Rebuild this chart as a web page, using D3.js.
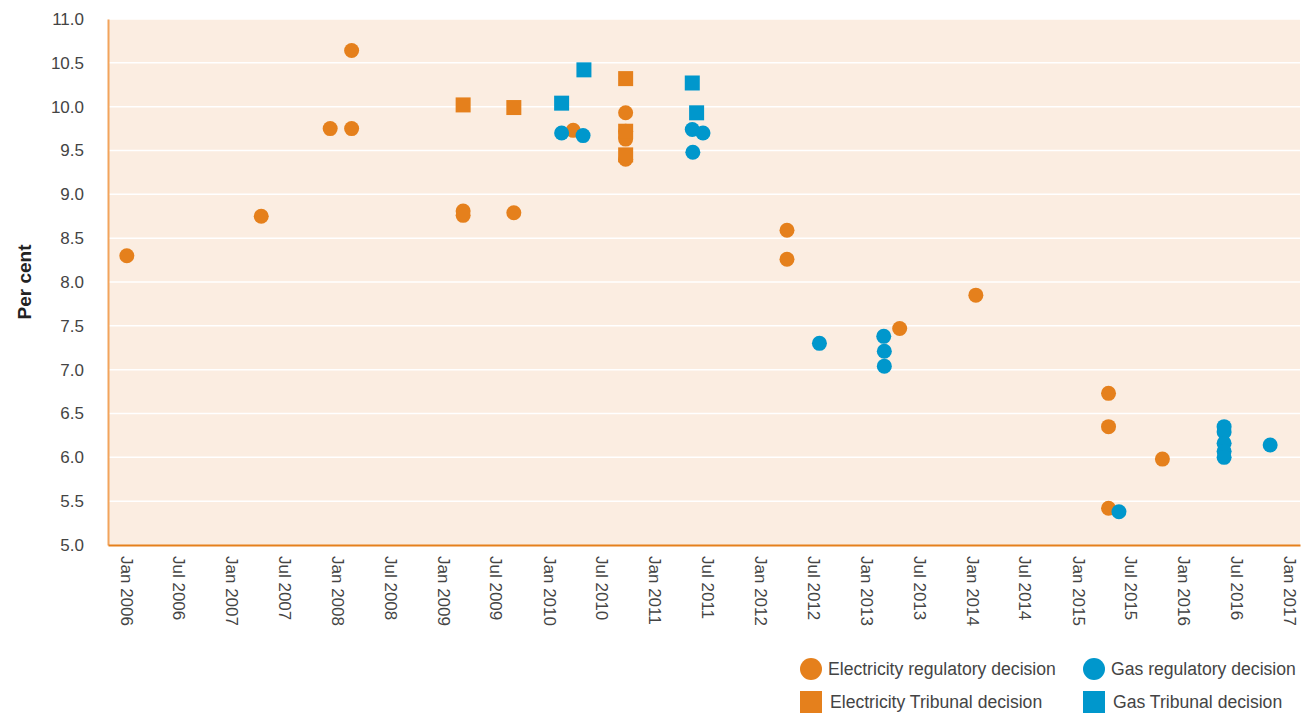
<!DOCTYPE html>
<html>
<head>
<meta charset="utf-8">
<script src="https://cdn.jsdelivr.net/npm/d3@7"></script>
<style>
  body { margin: 0; background: #fff; }
  svg text { font-family: "Liberation Sans", Arial, sans-serif; }
</style>
</head>
<body>
<svg id="chart" width="1302" height="716"></svg>
<script>
// series data (date of decision, rate of return in per cent)
var elecRegDates = ['2006-01-04', '2007-04-13', '2007-12-07', '2008-02-19', '2008-02-19', '2009-03-10', '2009-03-10',
  '2009-09-01', '2010-03-25', '2010-09-22', '2010-09-22', '2010-09-22', '2010-09-22', '2012-04-01', '2012-04-01',
  '2013-04-25', '2014-01-13', '2015-04-16', '2015-04-16', '2015-04-16', '2015-10-19'];
var elecRegValues = [8.30, 8.75, 9.75, 9.75, 10.64, 8.81, 8.76,
  8.79, 9.73, 9.93, 9.72, 9.63, 9.40, 8.59, 8.26,
  7.47, 7.85, 6.73, 6.35, 5.42, 5.98];

var gasRegDates = ['2010-02-13', '2010-04-28', '2011-05-10', '2011-06-16', '2011-05-12', '2012-07-22',
  '2013-03-01', '2013-03-03', '2013-03-03', '2015-05-22', '2016-05-19', '2016-05-19', '2016-05-19',
  '2016-05-19', '2016-05-19', '2016-10-25'];
var gasRegValues = [9.70, 9.67, 9.74, 9.70, 9.48, 7.30,
  7.38, 7.21, 7.04, 5.38, 6.35, 6.29, 6.16, 6.07, 6.00,
  6.14];

var elecTribDates = ['2009-03-10', '2009-09-01', '2010-09-22', '2010-09-22', '2010-09-22'];
var elecTribValues = [10.02, 9.99, 10.32, 9.72, 9.45];

var gasTribDates = ['2010-02-13', '2010-05-01', '2011-05-10', '2011-05-25'];
var gasTribValues = [10.04, 10.42, 10.27, 9.93];

var yTicks = [5.0, 5.5, 6.0, 6.5, 7.0, 7.5, 8.0, 8.5, 9.0, 9.5, 10.0, 10.5, 11.0];

var orange = '#E5801C', blue = '#0097CC';

var parse = d3.timeParse('%Y-%m-%d');
function pairs(dates, values) {
  return dates.map(function (d, i) { return { date: parse(d), value: values[i] }; });
}

var svg = d3.select('#chart');
var plotLeft = 108, plotRight = 1300, plotTop = 19, plotBottom = 545;

var x = d3.scaleTime()
  .domain([new Date(2005, 9, 31), new Date(2017, 1, 5)])
  .range([plotLeft, plotRight]);
var y = d3.scaleLinear().domain([5, 11]).range([plotBottom, plotTop]);

// plot background
svg.append('rect')
  .attr('x', plotLeft).attr('y', plotTop)
  .attr('width', plotRight - plotLeft).attr('height', plotBottom - plotTop)
  .attr('fill', '#FBEDE1');

// gridlines
svg.append('g')
  .selectAll('line')
  .data(yTicks.slice(1))
  .enter().append('line')
  .attr('x1', plotLeft).attr('x2', plotRight)
  .attr('y1', function (d) { return y(d); })
  .attr('y2', function (d) { return y(d); })
  .attr('stroke', '#fff').attr('stroke-width', 1.5);

// y axis
var yAxis = svg.append('g')
  .attr('transform', 'translate(' + plotLeft + ',0)')
  .call(d3.axisLeft(y).tickValues(yTicks).tickFormat(d3.format('.1f')).tickSize(0).tickPadding(24));
yAxis.select('.domain').attr('stroke', '#F2A45C').attr('stroke-width', 2);
yAxis.selectAll('text').attr('font-size', 17).attr('fill', '#444');

// x axis
var xTicks = d3.timeMonth.every(6).range(new Date(2006, 0, 1), new Date(2017, 0, 2));
var xAxis = svg.append('g')
  .attr('transform', 'translate(0,' + plotBottom + ')')
  .call(d3.axisBottom(x).tickValues(xTicks).tickFormat(d3.timeFormat('%b %Y')).tickSize(0));
xAxis.select('.domain').attr('stroke', orange).attr('stroke-width', 2);
xAxis.selectAll('text')
  .attr('font-size', 17).attr('fill', '#444')
  .attr('transform', 'rotate(90)')
  .attr('x', 11).attr('y', 0).attr('dy', '0.35em')
  .style('text-anchor', 'start');

// y axis title
svg.append('text')
  .attr('transform', 'translate(31,282) rotate(-90)')
  .attr('text-anchor', 'middle')
  .attr('font-size', 19).attr('font-weight', 'bold').attr('fill', '#222')
  .text('Per cent');

// marks: electricity reg, gas reg, electricity tribunal, gas tribunal
var r = 7.5, s = 15;
var marks = svg.append('g');
marks.selectAll('.er').data(pairs(elecRegDates, elecRegValues)).enter().append('circle')
  .attr('cx', function (d) { return x(d.date); }).attr('cy', function (d) { return y(d.value); })
  .attr('r', r).attr('fill', orange);
marks.selectAll('.gr').data(pairs(gasRegDates, gasRegValues)).enter().append('circle')
  .attr('cx', function (d) { return x(d.date); }).attr('cy', function (d) { return y(d.value); })
  .attr('r', r).attr('fill', blue);
marks.selectAll('.et').data(pairs(elecTribDates, elecTribValues)).enter().append('rect')
  .attr('x', function (d) { return x(d.date) - s / 2; }).attr('y', function (d) { return y(d.value) - s / 2; })
  .attr('width', s).attr('height', s).attr('fill', orange);
marks.selectAll('.gt').data(pairs(gasTribDates, gasTribValues)).enter().append('rect')
  .attr('x', function (d) { return x(d.date) - s / 2; }).attr('y', function (d) { return y(d.value) - s / 2; })
  .attr('width', s).attr('height', s).attr('fill', blue);

// legend
var legendItems = [
  { label: 'Electricity regulatory decision', color: orange, shape: 'circle', x: 811, y: 669 },
  { label: 'Gas regulatory decision', color: blue, shape: 'circle', x: 1094, y: 669 },
  { label: 'Electricity Tribunal decision', color: orange, shape: 'square', x: 811, y: 702 },
  { label: 'Gas Tribunal decision', color: blue, shape: 'square', x: 1094, y: 702 }
];
var legend = svg.append('g').selectAll('g').data(legendItems).enter().append('g')
  .attr('transform', function (d) { return 'translate(' + d.x + ',' + d.y + ')'; });
legend.each(function (d) {
  var g = d3.select(this);
  if (d.shape === 'circle') {
    g.append('circle').attr('r', 11).attr('fill', d.color);
  } else {
    g.append('rect').attr('x', -11).attr('y', -11).attr('width', 22).attr('height', 22).attr('fill', d.color);
  }
  g.append('text')
    .attr('x', d.shape === 'circle' ? 17 : 19).attr('dy', '0.35em')
    .attr('font-size', 17.6).attr('fill', '#444')
    .text(d.label);
});
</script>
</body>
</html>
